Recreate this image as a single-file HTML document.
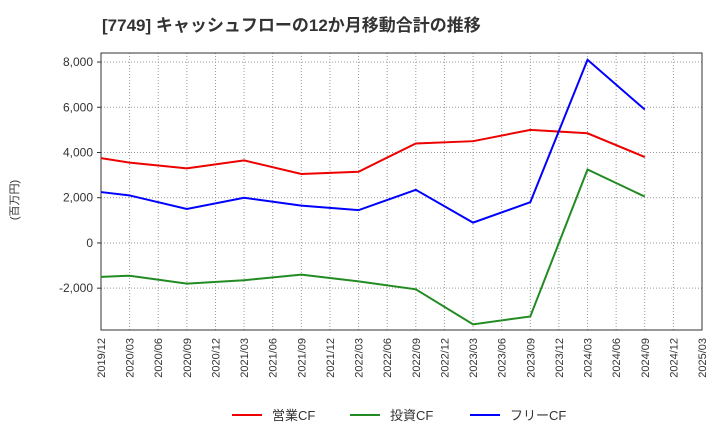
<!DOCTYPE html>
<html><head><meta charset="utf-8"><style>
body{margin:0;background:#fff;font-family:"Liberation Sans","Noto Sans CJK JP",sans-serif;}
svg text{font-family:"Liberation Sans","Noto Sans CJK JP",sans-serif;}
</style></head><body>
<svg id="c" width="720" height="440" xmlns="http://www.w3.org/2000/svg">
<text x="102" y="31" font-size="17" font-weight="bold" fill="#333">[7749]  キャッシュフローの12か月移動合計の推移</text>
<text transform="translate(18,200) rotate(-90)" text-anchor="middle" font-size="11" fill="#333">(百万円)</text>
<g id="grid"></g><g id="axes"></g><g id="series"></g>
<g>
<line x1="232" y1="415" x2="262" y2="415" stroke="#e00" stroke-width="2"/><text x="272" y="420" font-size="13" fill="#333">営業CF</text>
<line x1="350" y1="415" x2="380" y2="415" stroke="#228b22" stroke-width="2"/><text x="390" y="420" font-size="13" fill="#333">投資CF</text>
<line x1="470" y1="415" x2="500" y2="415" stroke="#00f" stroke-width="2"/><text x="510" y="420" font-size="13" fill="#333">フリーCF</text>
</g>
</svg>
<script>
const xLabels=["2019/12","2020/03","2020/06","2020/09","2020/12","2021/03","2021/06","2021/09","2021/12","2022/03","2022/06","2022/09","2022/12","2023/03","2023/06","2023/09","2023/12","2024/03","2024/06","2024/09","2024/12","2025/03"];
const yTicks=[-2000,0,2000,4000,6000,8000];
const pointIdx=[0,1,3,5,7,9,11,13,15,17,19];
const operatingCF=[3750,3550,3300,3650,3050,3150,4400,4500,5000,4850,3800];
const investingCF=[-1500,-1450,-1800,-1650,-1400,-1700,-2050,-3600,-3250,3250,2050];
const freeCF=[2250,2100,1500,2000,1650,1450,2350,900,1800,8100,5900];
const NS="http://www.w3.org/2000/svg";
const L=101,R=702,T=53,B=330;
const yMin=-3850,yMax=8400;
function xs(i){return L+(R-L)*i/(xLabels.length-1);}
function ys(v){return B-(v-yMin)/(yMax-yMin)*(B-T);}
function mk(tag,a,p){const e=document.createElementNS(NS,tag);for(const k in a)e.setAttribute(k,a[k]);p.appendChild(e);return e;}
const g=document.getElementById('grid'),ax=document.getElementById('axes'),s=document.getElementById('series');
xLabels.forEach((lb,i)=>{const x=xs(i);
 const l=mk('line',{x1:x,y1:T,x2:x,y2:B,stroke:'#999','stroke-dasharray':'1,2','stroke-width':1},g);
 
 
 const t=mk('text',{transform:`translate(${x+4},${B+8}) rotate(-90)`,'text-anchor':'end','font-size':11,fill:'#333'},ax);
 t.textContent=lb;
 
 
});
yTicks.forEach(v=>{const y=ys(v);
 const l=mk('line',{x1:L,y1:y,x2:R,y2:y,stroke:'#999','stroke-dasharray':'1,2','stroke-width':1},g);
 
 
 mk('line',{x1:L-4,y1:y,x2:L,y2:y,stroke:'#333'},ax);
 const t=mk('text',{x:L-8,y:y+4,'text-anchor':'end','font-size':12,fill:'#333'},ax);
 t.textContent=v.toLocaleString('en-US');
 
 
});
const fr=mk('rect',{x:L,y:T,width:R-L,height:B-T,fill:'none',stroke:'#333'},ax);


[[operatingCF,'#e00','operating-cf-line'],[investingCF,'#228b22','investing-cf-line'],[freeCF,'#00f','free-cf-line']].forEach(([d,c,n])=>{
 const p=mk('polyline',{points:d.map((v,i)=>xs(pointIdx[i])+','+ys(v)).join(' '),fill:'none',stroke:c,'stroke-width':2},s);
 
 
});
</script>
</body></html>
